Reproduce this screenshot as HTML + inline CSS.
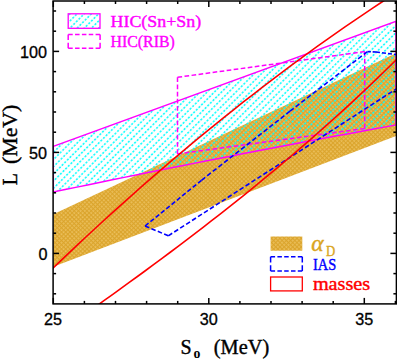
<!DOCTYPE html>
<html><head><meta charset="utf-8"><style>
html,body{margin:0;padding:0;background:#fff;}
svg{display:block}
text{font-family:"Liberation Serif",serif;stroke-width:0.4px;paint-order:stroke}
.tl{font-family:"Liberation Sans",sans-serif;font-size:16.2px;fill:#000;stroke:#000;stroke-width:0.3px}
</style></head><body>
<svg width="397" height="360" viewBox="0 0 397 360">
<defs>
<pattern id="cy" patternUnits="userSpaceOnUse" width="3.72" height="5.08" patternTransform="translate(64.67,159.12) rotate(-45)">
<ellipse cx="1.86" cy="2.54" rx="1.25" ry="0.85" fill="#00ffff"/>
</pattern>
<pattern id="oh" patternUnits="userSpaceOnUse" width="3" height="3" patternTransform="rotate(45)">
<rect width="3" height="3" fill="#ecc05c"/>
<path d="M0 0.6H3M0.6 0V3" stroke="#dba42c" stroke-width="1.1"/>
</pattern>
<clipPath id="fr"><rect x="53.1" y="1.0" width="343.29999999999995" height="302.9"/></clipPath>
</defs>
<rect width="397" height="360" fill="#fff"/>
<g clip-path="url(#fr)">
<polygon points="53.3,214.3 396,53.2 396,136 53.3,266.7" fill="url(#oh)"/>
<polygon points="53.3,146.4 396,21.4 396.00,124.96 384.18,127.12 372.37,129.28 360.55,131.46 348.73,133.65 336.91,135.85 325.10,138.06 313.28,140.29 301.46,142.52 289.64,144.77 277.83,147.02 266.01,149.29 254.19,151.57 242.38,153.86 230.56,156.16 218.74,158.47 206.92,160.80 195.11,163.13 183.29,165.48 171.47,167.84 159.66,170.21 147.84,172.59 136.02,174.98 124.20,177.39 112.39,179.80 100.57,182.23 88.75,184.66 76.93,187.11 65.12,189.57 53.30,192.04" fill="url(#cy)"/>
<polygon points="53.3,146.4 396,21.4 396.00,124.96 384.18,127.12 372.37,129.28 360.55,131.46 348.73,133.65 336.91,135.85 325.10,138.06 313.28,140.29 301.46,142.52 289.64,144.77 277.83,147.02 266.01,149.29 254.19,151.57 242.38,153.86 230.56,156.16 218.74,158.47 206.92,160.80 195.11,163.13 183.29,165.48 171.47,167.84 159.66,170.21 147.84,172.59 136.02,174.98 124.20,177.39 112.39,179.80 100.57,182.23 88.75,184.66 76.93,187.11 65.12,189.57 53.30,192.04" fill="none" stroke="#ff00ff" stroke-width="1.5"/>
<line x1="177.50" y1="153.90" x2="177.50" y2="77.30" stroke="#ff00ff" stroke-width="1.5" stroke-dasharray="4.723 2.464"/><line x1="177.50" y1="77.30" x2="364.70" y2="51.60" stroke="#ff00ff" stroke-width="1.5" stroke-dasharray="4.658 2.430"/><line x1="364.70" y1="51.60" x2="364.70" y2="128.50" stroke="#ff00ff" stroke-width="1.5" stroke-dasharray="4.742 2.474"/><line x1="364.70" y1="128.50" x2="177.50" y2="153.90" stroke="#ff00ff" stroke-width="1.5" stroke-dasharray="4.657 2.430"/>
<line x1="398.00" y1="54.80" x2="376.00" y2="52.00" stroke="#0000ff" stroke-width="1.6" stroke-dasharray="3.985 2.079"/><line x1="376.00" y1="52.00" x2="367.50" y2="51.60" stroke="#0000ff" stroke-width="1.6" stroke-dasharray="3.374 1.761"/><line x1="367.50" y1="51.60" x2="290.00" y2="111.20" stroke="#0000ff" stroke-width="1.6" stroke-dasharray="4.704 2.454"/><line x1="290.00" y1="111.20" x2="201.50" y2="180.30" stroke="#0000ff" stroke-width="1.6" stroke-dasharray="4.713 2.459"/><line x1="201.50" y1="180.30" x2="145.10" y2="226.00" stroke="#0000ff" stroke-width="1.6" stroke-dasharray="4.476 2.335"/><line x1="145.10" y1="226.00" x2="168.30" y2="235.80" stroke="#0000ff" stroke-width="1.6" stroke-dasharray="4.525 2.361"/><line x1="168.30" y1="235.80" x2="398.00" y2="87.80" stroke="#0000ff" stroke-width="1.6" stroke-dasharray="4.645 2.424"/>
<polyline points="40.00,280.65 49.23,271.72 58.46,262.87 67.69,254.09 76.92,245.40 86.15,236.78 95.38,228.24 104.62,219.78 113.85,211.40 123.08,203.10 132.31,194.87 141.54,186.72 150.77,178.65 160.00,170.66 169.23,162.74 178.46,154.91 187.69,147.15 196.92,139.47 206.15,131.87 215.38,124.34 224.62,116.89 233.85,109.53 243.08,102.24 252.31,95.02 261.54,87.89 270.77,80.83 280.00,73.85 289.23,66.95 298.46,60.13 307.69,53.39 316.92,46.72 326.15,40.13 335.38,33.62 344.62,27.19 353.85,20.83 363.08,14.56 372.31,8.36 381.54,2.24 390.77,-3.80 400.00,-9.77" fill="none" stroke="#ff0000" stroke-width="1.6"/>
<polyline points="80.00,317.72 88.21,311.90 96.41,306.06 104.62,300.20 112.82,294.31 121.03,288.40 129.23,282.46 137.44,276.49 145.64,270.48 153.85,264.44 162.05,258.36 170.26,252.24 178.46,246.08 186.67,239.87 194.87,233.62 203.08,227.32 211.28,220.97 219.49,214.57 227.69,208.12 235.90,201.60 244.10,195.03 252.31,188.40 260.51,181.70 268.72,174.94 276.92,168.12 285.13,161.22 293.33,154.25 301.54,147.21 309.74,140.09 317.95,132.89 326.15,125.62 334.36,118.26 342.56,110.82 350.77,103.29 358.97,95.68 367.18,87.97 375.38,80.17 383.59,72.28 391.79,64.29 400.00,56.20" fill="none" stroke="#ff0000" stroke-width="1.6"/>
</g>
<g stroke="#000" stroke-width="1.5" fill="none">
<rect x="53.1" y="1.0" width="343.29999999999995" height="302.9"/>
<line x1="53.30" y1="303.90" x2="53.30" y2="297.90"/><line x1="53.30" y1="1.00" x2="53.30" y2="7.00"/><line x1="84.40" y1="303.90" x2="84.40" y2="300.90"/><line x1="84.40" y1="1.00" x2="84.40" y2="4.00"/><line x1="115.50" y1="303.90" x2="115.50" y2="300.90"/><line x1="115.50" y1="1.00" x2="115.50" y2="4.00"/><line x1="146.60" y1="303.90" x2="146.60" y2="300.90"/><line x1="146.60" y1="1.00" x2="146.60" y2="4.00"/><line x1="177.70" y1="303.90" x2="177.70" y2="300.90"/><line x1="177.70" y1="1.00" x2="177.70" y2="4.00"/><line x1="208.80" y1="303.90" x2="208.80" y2="297.90"/><line x1="208.80" y1="1.00" x2="208.80" y2="7.00"/><line x1="239.90" y1="303.90" x2="239.90" y2="300.90"/><line x1="239.90" y1="1.00" x2="239.90" y2="4.00"/><line x1="271.00" y1="303.90" x2="271.00" y2="300.90"/><line x1="271.00" y1="1.00" x2="271.00" y2="4.00"/><line x1="302.10" y1="303.90" x2="302.10" y2="300.90"/><line x1="302.10" y1="1.00" x2="302.10" y2="4.00"/><line x1="333.20" y1="303.90" x2="333.20" y2="300.90"/><line x1="333.20" y1="1.00" x2="333.20" y2="4.00"/><line x1="364.30" y1="303.90" x2="364.30" y2="297.90"/><line x1="364.30" y1="1.00" x2="364.30" y2="7.00"/><line x1="395.40" y1="303.90" x2="395.40" y2="300.90"/><line x1="395.40" y1="1.00" x2="395.40" y2="4.00"/><line x1="53.10" y1="293.80" x2="56.10" y2="293.80"/><line x1="396.40" y1="293.80" x2="393.40" y2="293.80"/><line x1="53.10" y1="273.60" x2="56.10" y2="273.60"/><line x1="396.40" y1="273.60" x2="393.40" y2="273.60"/><line x1="53.10" y1="253.40" x2="59.10" y2="253.40"/><line x1="396.40" y1="253.40" x2="390.40" y2="253.40"/><line x1="53.10" y1="233.20" x2="56.10" y2="233.20"/><line x1="396.40" y1="233.20" x2="393.40" y2="233.20"/><line x1="53.10" y1="213.00" x2="56.10" y2="213.00"/><line x1="396.40" y1="213.00" x2="393.40" y2="213.00"/><line x1="53.10" y1="192.80" x2="56.10" y2="192.80"/><line x1="396.40" y1="192.80" x2="393.40" y2="192.80"/><line x1="53.10" y1="172.60" x2="56.10" y2="172.60"/><line x1="396.40" y1="172.60" x2="393.40" y2="172.60"/><line x1="53.10" y1="152.40" x2="59.10" y2="152.40"/><line x1="396.40" y1="152.40" x2="390.40" y2="152.40"/><line x1="53.10" y1="132.20" x2="56.10" y2="132.20"/><line x1="396.40" y1="132.20" x2="393.40" y2="132.20"/><line x1="53.10" y1="112.00" x2="56.10" y2="112.00"/><line x1="396.40" y1="112.00" x2="393.40" y2="112.00"/><line x1="53.10" y1="91.80" x2="56.10" y2="91.80"/><line x1="396.40" y1="91.80" x2="393.40" y2="91.80"/><line x1="53.10" y1="71.60" x2="56.10" y2="71.60"/><line x1="396.40" y1="71.60" x2="393.40" y2="71.60"/><line x1="53.10" y1="51.40" x2="59.10" y2="51.40"/><line x1="396.40" y1="51.40" x2="390.40" y2="51.40"/><line x1="53.10" y1="31.20" x2="56.10" y2="31.20"/><line x1="396.40" y1="31.20" x2="393.40" y2="31.20"/><line x1="53.10" y1="11.00" x2="56.10" y2="11.00"/><line x1="396.40" y1="11.00" x2="393.40" y2="11.00"/>
</g>
<g opacity="0.995"><!-- legend top -->
<rect x="68.2" y="13.8" width="31.8" height="14.5" fill="url(#cy)" stroke="#ff00ff" stroke-width="1.3"/>
<line x1="68.20" y1="34.50" x2="100.10" y2="34.50" stroke="#ff00ff" stroke-width="1.5" stroke-dasharray="4.528 2.315"/><line x1="100.10" y1="34.50" x2="100.10" y2="48.20" stroke="#ff00ff" stroke-width="1.5" stroke-dasharray="5.456 2.788"/><line x1="100.10" y1="48.20" x2="68.20" y2="48.20" stroke="#ff00ff" stroke-width="1.5" stroke-dasharray="4.528 2.315"/><line x1="68.20" y1="48.20" x2="68.20" y2="34.50" stroke="#ff00ff" stroke-width="1.5" stroke-dasharray="5.456 2.788"/>
<text x="110.5" y="27.2" font-size="16.2" fill="#ff00ff" stroke="#ff00ff" textLength="90.6" lengthAdjust="spacingAndGlyphs">HIC(Sn+Sn)</text>
<text x="110.5" y="46.6" font-size="16.2" fill="#ff00ff" stroke="#ff00ff" textLength="64.3" lengthAdjust="spacingAndGlyphs">HIC(RIB)</text>
<!-- legend bottom -->
<rect x="270.6" y="236.5" width="31.7" height="14.2" fill="url(#oh)"/>
<line x1="270.60" y1="256.80" x2="302.30" y2="256.80" stroke="#0000ff" stroke-width="1.5" stroke-dasharray="4.500 2.300"/><line x1="302.30" y1="256.80" x2="302.30" y2="270.90" stroke="#0000ff" stroke-width="1.5" stroke-dasharray="5.615 2.870"/><line x1="302.30" y1="270.90" x2="270.60" y2="270.90" stroke="#0000ff" stroke-width="1.5" stroke-dasharray="4.500 2.300"/><line x1="270.60" y1="270.90" x2="270.60" y2="256.80" stroke="#0000ff" stroke-width="1.5" stroke-dasharray="5.615 2.870"/>
<rect x="270.6" y="277" width="31.7" height="13.9" fill="none" stroke="#ff0000" stroke-width="1.3"/>
<text x="311.2" y="250.9" font-size="23.5" fill="#daa520" stroke="#daa520" font-style="italic">α</text>
<text x="326" y="255.7" font-size="15" fill="#daa520" stroke="#daa520" textLength="9.2" lengthAdjust="spacingAndGlyphs">D</text>
<text x="312.9" y="269.8" font-size="16.8" fill="#0000ff" stroke="#0000ff" textLength="23.3" lengthAdjust="spacingAndGlyphs">IAS</text>
<text x="312.9" y="289.8" font-size="18" fill="#ff0000" stroke="#ff0000" textLength="57.3" lengthAdjust="spacingAndGlyphs">masses</text>
<!-- tick labels -->
<text class="tl" x="47" y="58" text-anchor="end">100</text>
<text class="tl" x="47" y="159" text-anchor="end">50</text>
<text class="tl" x="47.5" y="260" text-anchor="end">0</text>
<text class="tl" x="52.9" y="324.5" text-anchor="middle">25</text>
<text class="tl" x="208.8" y="324.5" text-anchor="middle">30</text>
<text class="tl" x="364.3" y="324.5" text-anchor="middle">35</text>
<!-- axis labels -->
<text x="180.5" y="354.1" font-size="20" fill="#000" stroke="#000" stroke-width="0.15">S</text>
<text x="193.4" y="358.2" font-size="13.8" font-weight="bold" fill="#000" stroke="none">o</text>
<text x="213.8" y="354.1" font-size="20" fill="#000" stroke="#000" stroke-width="0.15" textLength="55.4" lengthAdjust="spacingAndGlyphs">(MeV)</text>
<g transform="translate(17.2,185.3) rotate(-90)">
<text x="0" y="0" font-size="20" fill="#000" stroke="#000" stroke-width="0.15">L</text>
<text x="21.4" y="0" font-size="20" fill="#000" stroke="#000" stroke-width="0.15" textLength="59.2" lengthAdjust="spacingAndGlyphs">(MeV)</text>
</g>
</g></svg>
</body></html>
